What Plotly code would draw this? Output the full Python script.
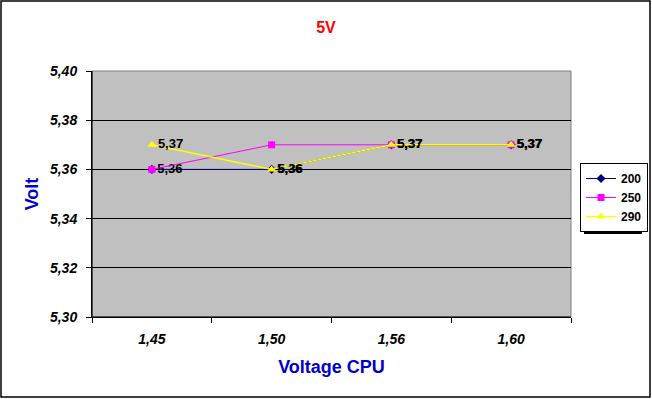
import plotly.graph_objects as go

categories = ["1,45", "1,50", "1,56", "1,60"]
s200 = [5.36, 5.36, 5.37, 5.37]
s250 = [5.36, 5.37, 5.37, 5.37]
s290 = [5.37, 5.36, 5.37, 5.37]
series_names = ["200", "250", "290"]
y_ticks = [5.30, 5.32, 5.34, 5.36, 5.38, 5.40]

W, H = 652, 399
L, R, T, B = 92, 81, 71, 82
pw, ph = W - L - R, H - T - B
FONT = "Arial, Liberation Sans, sans-serif"

def lab(vals):
    return [f"{v:.2f}".replace(".", ",") for v in vals]

labfont = dict(family=FONT, size=13, color="black", weight="bold")

fig = go.Figure()
fig.add_trace(go.Scatter(x=categories, y=s200, name=series_names[0], mode="lines+markers+text",
                         line=dict(color="#000080", width=1),
                         marker=dict(symbol="diamond", size=7, color="#000080"),
                         text=lab(s200), textposition="middle right", textfont=labfont))
fig.add_trace(go.Scatter(x=categories, y=s250, name=series_names[1], mode="lines+markers",
                         line=dict(color="#FF00FF", width=1),
                         marker=dict(symbol="square", size=7, color="#FF00FF")))
fig.add_trace(go.Scatter(x=categories, y=s290, name=series_names[2], mode="lines+markers+text",
                         line=dict(color="#FFFF00", width=1.4),
                         marker=dict(symbol="triangle-up", size=8, color="#FFFF00"),
                         text=lab(s290), textposition="middle right", textfont=labfont))

tickfont = dict(family=FONT, size=14, color="black", weight="bold", style="italic")

fig.update_layout(
    width=W, height=H,
    margin=dict(l=L, r=R, t=T, b=B, autoexpand=False),
    paper_bgcolor="white", plot_bgcolor="#C0C0C0",
    separators=",.",
    title=dict(text="5V", x=326 / W, xanchor="center", y=1 - 27 / H, yanchor="middle",
               font=dict(family=FONT, size=16, color="#FF0000", weight="bold")),
    xaxis=dict(type="category", showgrid=False, showline=True, linecolor="black", linewidth=1,
               ticks="outside", tickson="boundaries", ticklen=5, tickcolor="black",
               tickfont=tickfont, range=[-0.5, 3.5], automargin=False, ticklabelstandoff=9,
               title=dict(text="Voltage CPU", standoff=14,
                          font=dict(family=FONT, size=18, color="#0000CC", weight="bold"))),
    yaxis=dict(range=[5.30, 5.40], tickvals=y_ticks, tickformat=".2f", showgrid=True,
               gridcolor="black", gridwidth=1, zeroline=False, showline=True, linecolor="black",
               ticks="outside", ticklen=5, tickcolor="black", tickfont=tickfont, automargin=False,
               ticklabelstandoff=6,
               title=dict(text="Volt", standoff=6,
                          font=dict(family=FONT, size=18, color="#0000CC", weight="bold"))),
    legend=dict(x=(580 - L) / pw, xanchor="left", y=(H - B - 163) / ph, yanchor="top",
                bgcolor="white", bordercolor="black", borderwidth=1,
                font=dict(family=FONT, size=12, color="black", weight="bold"),
                itemwidth=30, tracegroupgap=0),
    showlegend=True,
)

# plot area gray border (top/right), black axis lines (left/bottom)
fig.add_shape(type="rect", xref="paper", yref="paper", x0=0, x1=1, y0=0, y1=1,
              line=dict(color="#808080", width=1), layer="below")
fig.add_shape(type="line", xref="paper", yref="paper", x0=0, x1=0, y0=0, y1=1,
              line=dict(color="black", width=1))
fig.add_shape(type="line", xref="paper", yref="paper", x0=0, x1=1, y0=0, y1=0,
              line=dict(color="black", width=1))
# legend shadow (drawn below legend)
fig.add_shape(type="rect", xref="paper", yref="paper",
              x0=(584 - L) / pw, x1=(642 - L) / pw, y0=(H - B - 234) / ph, y1=(H - B - 170) / ph,
              line=dict(width=0), fillcolor="black", layer="below")
# outer frame
fig.add_shape(type="rect", xref="paper", yref="paper",
              x0=(1 - L) / pw, x1=(W - 2 - L) / pw, y0=(H - B - (H - 2)) / ph, y1=(H - B - 1) / ph,
              line=dict(color="black", width=1.5))

fig.write_html("out.html", config={"displayModeBar": False},
               post_script="document.body.style.margin='0';document.body.style.overflow='hidden';")
